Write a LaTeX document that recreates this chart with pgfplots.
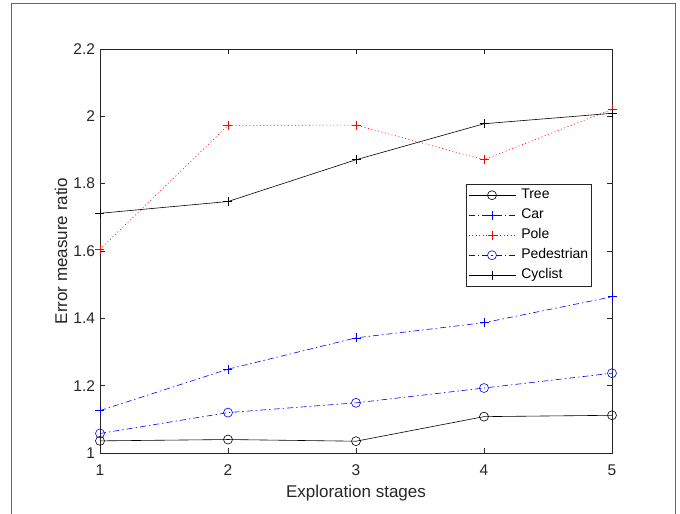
\documentclass[border=0pt]{standalone}
\usepackage{pgfplots}
\pgfplotsset{compat=1.18}
\usepackage{fontspec}
\setmainfont{Liberation Sans}
\definecolor{axgray}{rgb}{0.15,0.15,0.15}
\begin{document}
\begin{tikzpicture}
\useasboundingbox (-100bp,-61bp) rectangle (580bp,453bp);
\draw[black!60, line width=1bp] (-88.5bp,-62bp) -- (-88.5bp,449bp) -- (575bp,449bp) -- (575bp,-62bp);
\begin{axis}[
  at={(0bp,0bp)}, anchor=south west,
  scale only axis, width=512bp, height=404bp,
  xmin=1, xmax=5, ymin=1, ymax=2.2,
  xtick={1,2,3,4,5}, ytick={1,1.2,1.4,1.6,1.8,2,2.2},
  tick align=inside, major tick length=5bp,
  axis line style={axgray, line width=0.6bp},
  every tick/.style={axgray, line width=0.6bp},
  tick label style={font=\fontsize{15.5bp}{18bp}\selectfont, text=axgray},
  xticklabel style={yshift=-8bp},
  yticklabel style={xshift=-1.5bp},
  /pgf/number format/assume math mode=true,
  xlabel={Exploration stages}, ylabel={Error measure ratio},
  label style={font=\fontsize{17bp}{20bp}\selectfont, text=axgray},
  xlabel style={at={(axis description cs:0.5,-0.109)}, anchor=base},
  ylabel style={at={(axis description cs:-0.076,0.5)}, anchor=center},
  clip=false,
  legend style={at={(axis description cs:0.961,0.666)}, anchor=north east,
    draw=axgray, line width=0.6bp, font=\fontsize{14bp}{16bp}\selectfont,
    row sep=2bp, inner sep=2bp,
    nodes={inner sep=1.5bp, text height=11bp, text depth=4bp}},
  legend cell align=left,
  legend image code/.code={\draw[mark repeat=2,mark phase=2,#1] plot coordinates {(0bp,0bp) (23.5bp,0bp) (47bp,0bp)};\path (51bp,0bp);},
]
\addplot[blue!0!black, line width=0.6bp, mark=o, mark size=4.5bp, mark options={solid}]
  coordinates {(1,1.036) (2,1.040) (3,1.035) (4,1.108) (5,1.112)};
\addlegendentry{Tree}
\addplot[blue, line width=0.6bp, dash pattern=on 6bp off 3bp on 1.5bp off 3bp, mark=+, mark size=4.5bp, mark options={solid}]
  coordinates {(1,1.126) (2,1.249) (3,1.342) (4,1.387) (5,1.464)};
\addlegendentry{Car}
\addplot[red, line width=0.6bp, dash pattern=on 1bp off 2.5bp, mark=+, mark size=4.5bp, mark options={solid}]
  coordinates {(1,1.605) (2,1.973) (3,1.974) (4,1.871) (5,2.021)};
\addlegendentry{Pole}
\addplot[blue, line width=0.6bp, dash pattern=on 6bp off 3bp on 1.5bp off 3bp, mark=o, mark size=4.5bp, mark options={solid}]
  coordinates {(1,1.058) (2,1.120) (3,1.149) (4,1.193) (5,1.237)};
\addlegendentry{Pedestrian}
\addplot[black, line width=0.6bp, mark=+, mark size=4.5bp, mark options={solid}]
  coordinates {(1,1.712) (2,1.747) (3,1.871) (4,1.978) (5,2.009)};
\addlegendentry{Cyclist}
\end{axis}
\end{tikzpicture}
\end{document}
